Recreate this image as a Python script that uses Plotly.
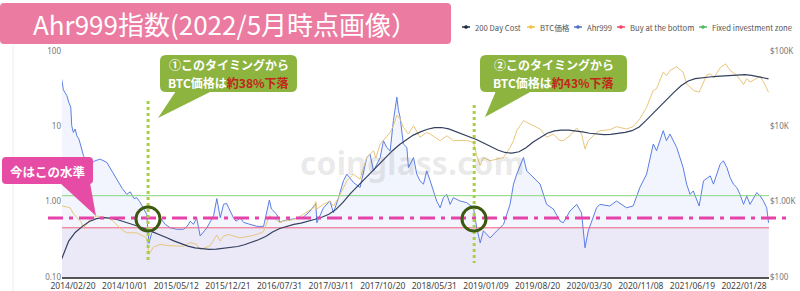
import plotly.graph_objects as go

# ---------------- data ----------------
ahr999_dates = [
    "2014-01-02", "2014-01-09", "2014-01-16", "2014-01-24", "2014-02-01", "2014-02-10", "2014-02-14",
    "2014-02-21", "2014-03-01", "2014-03-08", "2014-03-17", "2014-03-30", "2014-04-06", "2014-04-17",
    "2014-05-04", "2014-05-26", "2014-06-17", "2014-07-16", "2014-08-13", "2014-08-28", "2014-09-20",
    "2014-10-10", "2014-10-25", "2014-11-10", "2014-11-22", "2014-12-05", "2014-12-21",
    "2015-01-04", "2015-01-14", "2015-01-25", "2015-02-02", "2015-02-15", "2015-03-03", "2015-03-15",
    "2015-03-25", "2015-04-15", "2015-05-14", "2015-06-12", "2015-06-28", "2015-07-11", "2015-07-25",
    "2015-08-08", "2015-08-23", "2015-09-21", "2015-10-05", "2015-10-20", "2015-11-03", "2015-11-10",
    "2015-11-18", "2015-12-02", "2015-12-15", "2015-12-24",
    "2016-01-14", "2016-01-25", "2016-02-12", "2016-02-27", "2016-03-26", "2016-04-24", "2016-05-23",
    "2016-06-06", "2016-06-17", "2016-06-26", "2016-07-19", "2016-08-02", "2016-08-17", "2016-09-15",
    "2016-10-14", "2016-11-10", "2016-12-10", "2016-12-25",
    "2017-01-04", "2017-01-08", "2017-02-06", "2017-03-06", "2017-03-21", "2017-04-12", "2017-05-03",
    "2017-05-18", "2017-06-02", "2017-06-15", "2017-07-14", "2017-08-12", "2017-08-26", "2017-09-10",
    "2017-10-09", "2017-10-23", "2017-11-06", "2017-11-21", "2017-12-05", "2017-12-20", "2017-12-27",
    "2018-01-03", "2018-01-17", "2018-02-01", "2018-02-08", "2018-03-02", "2018-03-16", "2018-03-30",
    "2018-04-14", "2018-04-28", "2018-05-13", "2018-06-10", "2018-06-25", "2018-07-09", "2018-07-24",
    "2018-08-07", "2018-08-21", "2018-09-19", "2018-10-18", "2018-11-16", "2018-11-30", "2018-12-15",
    "2018-12-29",
    "2019-01-27", "2019-02-25", "2019-03-26", "2019-04-23", "2019-05-08", "2019-05-22", "2019-06-20",
    "2019-07-04", "2019-08-02", "2019-08-31", "2019-09-28", "2019-10-27", "2019-11-25", "2019-12-09",
    "2020-01-07", "2020-02-05", "2020-02-26", "2020-03-12", "2020-03-26", "2020-05-01", "2020-05-15",
    "2020-06-27", "2020-07-26", "2020-09-07", "2020-10-06", "2020-11-04", "2020-12-03",
    "2021-01-01", "2021-01-15", "2021-02-13", "2021-02-27", "2021-03-14", "2021-04-12", "2021-05-10",
    "2021-05-25", "2021-06-09", "2021-06-23", "2021-07-18", "2021-08-06", "2021-09-04", "2021-09-18",
    "2021-10-02", "2021-10-17", "2021-10-31", "2021-11-15", "2021-11-29", "2021-12-13", "2021-12-28",
    "2022-01-11", "2022-01-26", "2022-02-09", "2022-02-23", "2022-03-10", "2022-03-24", "2022-04-08",
    "2022-04-22", "2022-05-06", "2022-05-14",
]
ahr999_values = [
    42, 30.6, 28, 25.6, 20.9, 17.9, 10.2,
    8.3, 9.2, 7.5, 6.8, 5.0, 4.07, 3.49,
    3.15, 3.49, 3.67, 3.31, 2.32, 1.99, 1.5,
    1.25, 1.35, 1.1, 1.13, 1.0, 0.83,
    0.68, 0.28, 0.38, 0.41, 0.45, 0.61, 0.55,
    0.50, 0.45, 0.43, 0.43, 0.47, 0.55, 0.50,
    0.61, 0.35, 0.45, 0.55, 0.65, 1.1, 0.8,
    0.61, 0.92, 0.95, 0.83,
    0.61, 0.55, 0.61, 0.53, 0.50, 0.47, 0.47,
    0.75, 1.05, 0.80, 0.68, 0.53, 0.56, 0.58,
    0.60, 0.62, 0.75, 0.876,
    0.95, 0.525, 0.83, 1.02, 0.71, 1.13, 1.89,
    2.32, 2.0, 1.8, 1.54, 3.86, 4.28, 2.56,
    3.86, 6.45, 5.25, 4.74, 11.9, 24.4, 16.2,
    13.2, 5.83, 5.25, 2.84, 3.86, 2.32, 1.89,
    1.71, 2.56, 1.89, 1.02, 0.83, 1.13, 1.25,
    0.92, 1.13, 1.02, 0.97, 0.83, 0.45, 0.284,
    0.41,
    0.33, 0.41, 0.50, 0.92, 1.71, 2.32, 3.86,
    2.56, 2.09, 1.71, 0.92, 0.8, 0.553, 0.525,
    0.75, 0.92, 0.71, 0.244, 0.41, 0.83, 0.92,
    0.876, 1.02, 0.83, 0.876, 1.54, 2.32,
    5.83, 4.74, 8.76, 6.45, 7.9, 5.25, 2.84,
    1.71, 1.25, 1.39, 0.876, 1.89, 2.2, 1.71,
    2.32, 3.15, 3.49, 2.84, 2.09, 1.71, 1.54,
    1.25, 0.92, 1.19, 0.92, 1.13, 1.32, 1.19,
    1.02, 0.83, 0.525,
]

btc_dates = [
    "2014-01-02", "2014-01-20", "2014-02-07", "2014-02-21", "2014-03-08", "2014-03-25", "2014-04-05",
    "2014-04-20", "2014-05-04", "2014-06-02", "2014-07-15", "2014-08-10", "2014-08-27", "2014-09-20",
    "2014-10-10", "2014-11-22", "2014-12-21",
    "2015-01-04", "2015-01-14", "2015-02-02", "2015-03-03", "2015-04-15", "2015-06-12", "2015-07-11",
    "2015-08-08", "2015-08-23", "2015-09-21", "2015-10-05", "2015-11-03", "2015-11-18", "2015-12-02",
    "2015-12-24",
    "2016-01-14", "2016-02-12", "2016-03-26", "2016-04-24", "2016-05-23", "2016-06-17", "2016-07-19",
    "2016-08-02", "2016-08-17", "2016-09-15", "2016-10-14", "2016-11-15", "2016-12-25",
    "2017-01-04", "2017-01-08", "2017-02-06", "2017-03-06", "2017-03-21", "2017-04-12", "2017-05-18",
    "2017-06-15", "2017-07-14", "2017-08-12", "2017-09-10", "2017-09-20", "2017-10-09", "2017-11-06",
    "2017-11-21", "2017-12-05", "2017-12-20",
    "2018-01-03", "2018-01-17", "2018-02-08", "2018-03-02", "2018-03-30", "2018-04-28", "2018-05-13",
    "2018-06-25", "2018-07-24", "2018-08-21", "2018-09-19", "2018-10-18", "2018-11-16", "2018-11-30",
    "2018-12-15", "2018-12-29",
    "2019-01-27", "2019-02-25", "2019-03-26", "2019-04-23", "2019-05-08", "2019-05-22", "2019-06-20",
    "2019-07-04", "2019-08-02", "2019-08-31", "2019-09-28", "2019-10-27", "2019-11-25", "2019-12-09",
    "2020-01-07", "2020-02-05", "2020-02-26", "2020-03-12", "2020-03-26", "2020-05-01", "2020-05-15",
    "2020-06-27", "2020-07-26", "2020-09-07", "2020-10-06", "2020-11-04", "2020-12-03",
    "2021-01-01", "2021-01-15", "2021-02-13", "2021-02-27", "2021-03-14", "2021-04-12", "2021-05-10",
    "2021-05-25", "2021-06-09", "2021-06-23", "2021-07-18", "2021-08-20", "2021-09-04", "2021-09-20",
    "2021-10-17", "2021-10-31", "2021-11-10", "2021-11-29", "2021-12-28",
    "2022-01-26", "2022-02-09", "2022-02-23", "2022-03-24", "2022-04-08", "2022-04-22", "2022-05-14",
]
btc_prices = [
    880, 850, 830, 700, 612, 550, 450,
    500, 582, 645, 612, 560, 500, 420,
    386, 386, 349,
    331, 200, 250, 270, 260, 256, 286,
    270, 232, 250, 260, 360, 300, 350,
    367,
    349, 331, 349, 367, 400, 650, 565,
    525, 553, 565, 600, 700, 832,
    1000, 800, 923, 1020, 876, 1130, 1890,
    2320, 1990, 3860, 4740, 3800, 5830, 7500,
    8300, 10200, 14000,
    12600, 9700, 7900, 10200, 7150, 8300, 7900,
    6450, 7500, 6450, 6500, 6500, 6100, 4070,
    3020, 3860,
    3490, 3670, 3860, 5250, 6450, 8760, 11900,
    11300, 10200, 9200, 7150, 7900, 6450, 6450,
    7500, 9500, 7900, 5000, 6450, 8300, 8760,
    9000, 9900, 9200, 9900, 12600, 17900,
    30000, 31600, 52500, 47000, 55000, 61700, 52500,
    36700, 33000, 30000, 28400, 48000, 50000, 44000,
    60000, 64000, 67500, 55000, 47500,
    36000, 43000, 38600, 42700, 46000, 39000, 28400,
]

cost200_dates = [
    "2014-01-02", "2014-02-01", "2014-03-01", "2014-04-01", "2014-05-01", "2014-06-01",
    "2014-07-01", "2014-08-01", "2014-09-01", "2014-10-01", "2014-11-01", "2014-12-01",
    "2015-01-01", "2015-02-01", "2015-03-01", "2015-04-01", "2015-05-01", "2015-06-01",
    "2015-07-01", "2015-08-01", "2015-09-01", "2015-10-01", "2015-11-01", "2015-12-01",
    "2016-01-01", "2016-02-01", "2016-03-01", "2016-04-01", "2016-05-01", "2016-06-01",
    "2016-07-01", "2016-08-01", "2016-09-01", "2016-10-01", "2016-11-01", "2016-12-01",
    "2017-01-01", "2017-02-01", "2017-03-01", "2017-04-01", "2017-05-01", "2017-06-01",
    "2017-07-01", "2017-08-01", "2017-09-01", "2017-10-01", "2017-11-01", "2017-12-01",
    "2018-01-01", "2018-02-01", "2018-03-01", "2018-04-01", "2018-05-01", "2018-06-01",
    "2018-07-01", "2018-08-01", "2018-09-01", "2018-10-01", "2018-11-01", "2018-12-01",
    "2019-01-01", "2019-02-01", "2019-03-01", "2019-04-01", "2019-05-01", "2019-06-01",
    "2019-07-01", "2019-08-01", "2019-09-01", "2019-10-01", "2019-11-01", "2019-12-01",
    "2020-01-01", "2020-02-01", "2020-03-01", "2020-04-01", "2020-05-01", "2020-06-01",
    "2020-07-01", "2020-08-01", "2020-09-01", "2020-10-01", "2020-11-01", "2020-12-01",
    "2021-01-01", "2021-02-01", "2021-03-01", "2021-04-01", "2021-05-01", "2021-06-01",
    "2021-07-01", "2021-08-01", "2021-09-01", "2021-10-01", "2021-11-01", "2021-12-01",
    "2022-01-01", "2022-02-01", "2022-03-01", "2022-04-01", "2022-05-14",
]
cost200_values = [
    175, 300, 390, 470, 545, 595, 615, 605, 575, 540, 505, 468,
    432, 397, 362, 332, 302, 277, 257, 244, 236, 232, 234, 239,
    245, 254, 268, 288, 312, 345, 395, 440, 475, 500, 520, 548,
    585, 625, 680, 790, 980, 1270, 1580, 1930, 2450, 3050, 3850, 4750,
    5750, 6750, 7650, 8450, 9150, 9600, 9650, 9250, 8550, 7850, 7250, 6650,
    5950, 5350, 4850, 4500, 4400, 4600, 5200, 6200, 7200, 8100, 8700, 8900,
    8900, 8750, 8450, 8100, 7850, 7750, 7800, 8000, 8300, 8750, 9800, 12000,
    15000, 18500, 23000, 28500, 34500, 40000, 43000, 44500, 45200, 46000, 46800, 47500,
    48200, 48500, 47500, 45500, 42700,
]

series_names = ["200 Day Cost", "BTC価格", "Ahr999", "Buy at the bottom", "Fixed investment zone"]
buy_bottom_level = 0.45
fixed_invest_level = 1.2
current_level = 0.59
signal_dates = ["2015-01-10", "2018-11-19"]
date_range = ["2014-01-03", "2022-05-16"]

x_tick_dates = ["2014-02-20", "2014-10-01", "2015-05-12", "2015-12-21", "2016-07-31", "2017-03-11",
                "2017-10-20", "2018-05-31", "2019-01-09", "2019-08-20", "2020-03-30", "2020-11-08",
                "2021-06-19", "2022-01-28"]
x_tick_labels = ["2014/02/20", "2014/10/01", "2015/05/12", "2015/12/21", "2016/07/31", "2017/03/11",
                 "2017/10/20", "2018/05/31", "2019/01/09", "2019/08/20", "2020/03/30", "2020/11/08",
                 "2021/06/19", "2022/01/28"]
left_tick_values = [0.1, 1, 10, 100]
left_tick_labels = ["0.10", "1.00", "10", "100"]
right_tick_values = [100, 1000, 10000, 100000]
right_tick_labels = ["$100", "$1.00K", "$10K", "$100K"]

assert len(ahr999_dates) == len(ahr999_values)
assert len(btc_dates) == len(btc_prices)
assert len(cost200_dates) == len(cost200_values)

# ---------------- styling ----------------
C_NAVY = "#34405e"
C_GOLD = "#e9c67c"
C_BLUE = "#5b7ee5"
C_RED = "#f0607e"
C_GREEN = "#86d67e"
JP = "Noto Sans CJK JP, Noto Sans, sans-serif"
LAT = "Noto Sans, DejaVu Sans, sans-serif"

L, R, T, B = 62, 769, 51, 277
W, H = R - L, B - T


def fx(px):
    return (px - L) / W


def fy(py):
    return (B - py) / H


def P(x, y):
    return f"{fx(x):.5f},{fy(y):.5f}"


def rrect(x0, y0, x1, y1, r):
    return (f"M {P(x0 + r, y0)} L {P(x1 - r, y0)} Q {P(x1, y0)} {P(x1, y0 + r)} "
            f"L {P(x1, y1 - r)} Q {P(x1, y1)} {P(x1 - r, y1)} L {P(x0 + r, y1)} "
            f"Q {P(x0, y1)} {P(x0, y1 - r)} L {P(x0, y0 + r)} Q {P(x0, y0)} {P(x0 + r, y0)} Z")


def tri(a, b, c):
    return f"M {P(*a)} L {P(*b)} L {P(*c)} Z"


fig = go.Figure()

fig.add_trace(go.Scatter(
    x=ahr999_dates, y=ahr999_values, name=series_names[2], mode="lines",
    line=dict(color=C_BLUE, width=1), fill="tozeroy", fillcolor="rgba(91,126,229,0.08)",
    yaxis="y"))
fig.add_trace(go.Scatter(
    x=date_range, y=[buy_bottom_level] * 2, name=series_names[3], mode="lines",
    line=dict(color=C_RED, width=1), yaxis="y"))
fig.add_trace(go.Scatter(
    x=date_range, y=[fixed_invest_level] * 2, name=series_names[4], mode="lines",
    line=dict(color=C_GREEN, width=1), yaxis="y"))
fig.add_trace(go.Scatter(
    x=btc_dates, y=btc_prices, name=series_names[1], mode="lines",
    line=dict(color=C_GOLD, width=1), yaxis="y2"))
fig.add_trace(go.Scatter(
    x=cost200_dates, y=cost200_values, name=series_names[0], mode="lines",
    line=dict(color=C_NAVY, width=1.2), yaxis="y2"))

shapes = []
# lavender "buy at the bottom" zone
shapes.append(dict(type="rect", xref="paper", yref="y", x0=0, x1=1, y0=0.1, y1=buy_bottom_level,
                   fillcolor="rgba(205,160,215,0.15)", line=dict(width=0), layer="below"))
# faint container border
shapes.append(dict(type="line", xref="paper", yref="paper", x0=fx(13), x1=fx(13), y0=fy(46), y1=fy(291),
                   line=dict(color="#ececec", width=1)))
# current level dash-dot
shapes.append(dict(type="line", xref="paper", yref="paper", x0=fx(48), x1=fx(790),
                   y0=fy(218), y1=fy(218),
                   line=dict(color="#e543a9", width=3, dash="15px,6px,4px,6px")))
# signal dotted verticals + circles
for d, ytop, cx in zip(signal_dates, [101, 105], [148, 474]):
    shapes.append(dict(type="line", xref="x", yref="paper", x0=d, x1=d, y0=fy(ytop), y1=fy(263),
                       line=dict(color="#a9cf4a", width=3, dash="dot")))
    shapes.append(dict(type="circle", xref="paper", yref="paper",
                       x0=fx(cx - 12), x1=fx(cx + 12), y0=fy(219 + 12), y1=fy(219 - 12),
                       line=dict(color="#3b5a10", width=3)))
# title box
shapes.append(dict(type="path", xref="paper", yref="paper", path=rrect(0, 3, 451, 44, 4),
                   fillcolor="#ec7ba1", line=dict(width=0)))
# left callout
shapes.append(dict(type="path", xref="paper", yref="paper", path=rrect(2, 157, 93, 184, 4),
                   fillcolor="#e64ba5", line=dict(width=0)))
shapes.append(dict(type="path", xref="paper", yref="paper", path=tri((60, 183), (90, 183), (96, 216)),
                   fillcolor="#e64ba5", line=dict(width=0)))
# green callouts
for bx0, bx1, tail in [(160, 297, ((176, 91), (212, 91), (158, 118))),
                       (480, 627, ((496, 91), (532, 91), (485, 117)))]:
    shapes.append(dict(type="path", xref="paper", yref="paper", path=rrect(bx0, 55, bx1, 92, 6),
                       fillcolor="#8cb43f", line=dict(width=0)))
    shapes.append(dict(type="path", xref="paper", yref="paper", path=tri(*tail),
                       fillcolor="#8cb43f", line=dict(width=0)))

annotations = []
# legend (drawn manually to match compact icons)
legend_items = [(series_names[0], "#1f2a44", 466), (series_names[1], "#f0c24c", 531),
                (series_names[2], "#5470c6", 578), (series_names[3], "#ee4466", 621),
                (series_names[4], "#52b963", 703)]
for name, col, mx in legend_items:
    shapes.append(dict(type="line", xref="paper", yref="paper", x0=fx(mx - 4), x1=fx(mx + 4),
                       y0=fy(27), y1=fy(27), line=dict(color=col, width=1.5)))
    shapes.append(dict(type="circle", xref="paper", yref="paper", x0=fx(mx - 1.6), x1=fx(mx + 1.6),
                       y0=fy(28.6), y1=fy(25.4), fillcolor=col, line=dict(color=col, width=0.5)))
    annotations.append(dict(xref="paper", yref="paper", x=fx(mx + 7), y=fy(27), text=name,
                            showarrow=False, xanchor="left", yanchor="middle",
                            font=dict(family=JP, size=7.7, color="#555")))

annotations.append(dict(xref="paper", yref="paper", x=fx(225), y=fy(23),
                        text="Ahr999指数(2022/5月時点画像）", showarrow=False,
                        xanchor="center", yanchor="middle",
                        font=dict(family=JP, size=26, color="white")))
annotations.append(dict(xref="paper", yref="paper", x=fx(47), y=fy(171), text="<b>今はこの水準</b>",
                        showarrow=False, xanchor="center", yanchor="middle",
                        font=dict(family=JP, size=12.5, color="white")))
for cx, pct in [(228.5, "約38%下落"), (553.5, "約43%下落")]:
    num = "①" if pct.startswith("約38") else "②"
    annotations.append(dict(xref="paper", yref="paper", x=fx(cx), y=fy(64.5),
                            text=f"<b>{num}このタイミングから</b>", showarrow=False,
                            xanchor="center", yanchor="middle", borderpad=0,
                            font=dict(family=JP, size=12, color="white")))
    annotations.append(dict(xref="paper", yref="paper", x=fx(cx), y=fy(82.5),
                            text=f"<b>BTC価格は<span style='color:#c0261b'>{pct}</span></b>",
                            showarrow=False, xanchor="center", yanchor="middle", borderpad=0,
                            font=dict(family=JP, size=12, color="white")))
# watermark
annotations.append(dict(xref="paper", yref="paper", x=fx(412), y=fy(162), text="<b>coinglass.com</b>",
                        showarrow=False, xanchor="center", yanchor="middle",
                        font=dict(family=LAT, size=32, color="rgba(90,90,90,0.13)")))

fig.update_layout(
    width=800, height=291,
    margin=dict(l=L, r=800 - R, t=T, b=291 - B, pad=0),
    paper_bgcolor="white", plot_bgcolor="white", showlegend=False,
    shapes=shapes, annotations=annotations,
    xaxis=dict(type="date", range=date_range, tickvals=x_tick_dates, ticktext=x_tick_labels,
               showgrid=False, zeroline=False, showline=True, linecolor="#555", linewidth=2,
               ticks="", tickfont=dict(family=LAT, size=8.5, color="#444"), automargin=False,
               tickangle=0),
    yaxis=dict(type="log", range=[-1, 2], tickvals=left_tick_values, ticktext=left_tick_labels,
               showgrid=False, zeroline=False, showline=False, ticks="",
               tickfont=dict(family=LAT, size=8, color="#777"), automargin=False),
    yaxis2=dict(type="log", range=[2, 5], tickvals=right_tick_values, ticktext=right_tick_labels,
                overlaying="y", side="right", showgrid=False, zeroline=False, showline=False,
                ticks="", tickfont=dict(family=LAT, size=8, color="#777"), automargin=False),
)

fig.write_html("out.html")
